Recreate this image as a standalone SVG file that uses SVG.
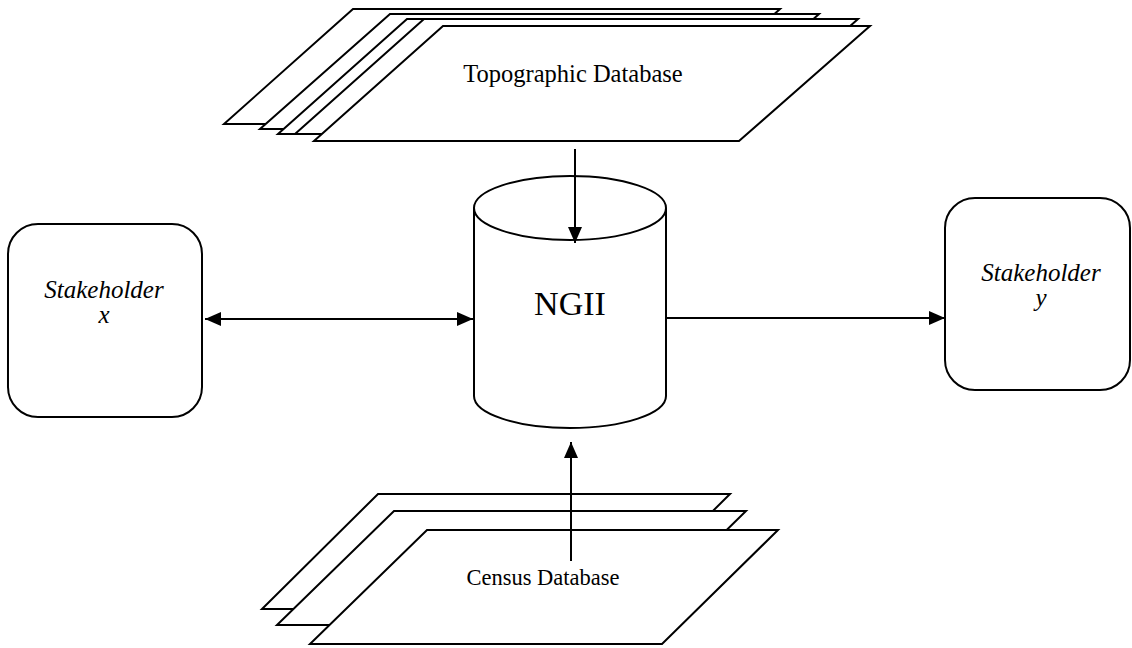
<svg xmlns="http://www.w3.org/2000/svg" width="1132" height="648" viewBox="0 0 1132 648">
<style>
.shape{fill:#fff;stroke:#000;stroke-width:2;stroke-linejoin:miter}
.conn{stroke:#000;stroke-width:2;fill:none}
.lbl{font-family:"Liberation Serif","Times New Roman",serif;fill:#000;text-anchor:middle}
.it{font-style:italic}
</style>
<defs>
<marker id="ah" viewBox="0 0 16 14" refX="16" refY="7" markerWidth="16" markerHeight="14" markerUnits="userSpaceOnUse" orient="auto-start-reverse">
<path d="M0,0 L16,7 L0,14 Z" fill="#000"/>
</marker>
</defs>
<rect width="1132" height="648" fill="#fff"/>
<g id="topographic-database">
<polygon class="shape" points="353,9 780,9 651,124 224,124"/>
<polygon class="shape" points="390,14 819,14 690,129 260,129"/>
<polygon class="shape" points="407,19 833,19 704,134 278,134"/>
<polygon class="shape" points="424,19 858,19 729,134 295,134"/>
<polygon class="shape" points="443,26 870,26 739,141 314,141"/>
<text class="lbl" x="573" y="82" font-size="24.5">Topographic Database</text>
</g>
<g id="census-database">
<polygon class="shape" points="378,494 730,494 614,609 262,609"/>
<polygon class="shape" points="394,511 746,511 630,625 277,625"/>
<polygon class="shape" points="427,530 778,530 662,644 310,644"/>
<text class="lbl" x="543" y="585" font-size="22.5">Census Database</text>
</g>
<g id="ngii">
<path class="shape" d="M474,208 L474,396 A96,32 0 0 0 666,396 L666,208 A96,32 0 0 0 474,208 Z"/>
<path class="conn" d="M474,208 A96,32 0 0 0 666,208"/>
<text class="lbl" x="570" y="315" font-size="34">NGII</text>
</g>
<g id="stakeholder-x">
<rect class="shape" x="8" y="224" width="194" height="193" rx="30" ry="30"/>
<text class="lbl it" x="104" y="298" font-size="25">Stakeholder</text>
<text class="lbl it" x="104" y="323" font-size="25">x</text>
</g>
<g id="stakeholder-y">
<rect class="shape" x="945" y="198" width="185" height="192" rx="30" ry="30"/>
<text class="lbl it" x="1041" y="281" font-size="25">Stakeholder</text>
<text class="lbl it" x="1041" y="306" font-size="25">y</text>
</g>
<g id="connectors">
<line class="conn" x1="575" y1="149" x2="575" y2="243" marker-end="url(#ah)"/>
<line class="conn" x1="571" y1="561" x2="571" y2="442" marker-end="url(#ah)"/>
<line class="conn" x1="205" y1="319" x2="473" y2="319" marker-start="url(#ah)" marker-end="url(#ah)"/>
<line class="conn" x1="666" y1="318" x2="945" y2="318" marker-end="url(#ah)"/>
</g>
</svg>
